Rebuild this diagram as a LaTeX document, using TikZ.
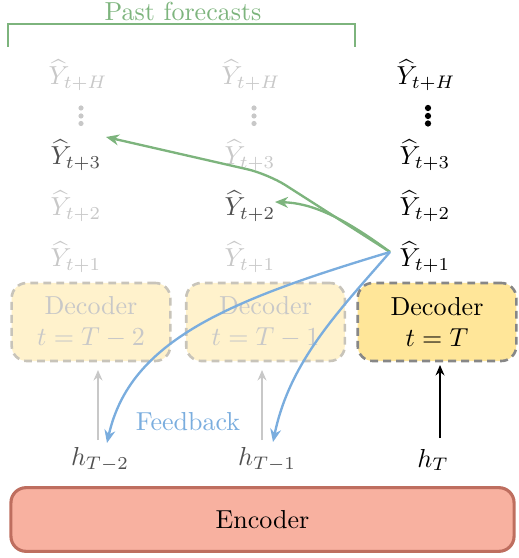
\documentclass[tikz,border=0pt]{standalone}
\usepackage{amsmath}
\usetikzlibrary{arrows.meta}
\definecolor{pgreen}{RGB}{125,180,125}
\definecolor{fblue}{RGB}{122,173,222}
\definecolor{decfill}{RGB}{255,230,153}
\definecolor{decfade}{RGB}{255,242,204}
\definecolor{encfill}{RGB}{248,177,160}
\definecolor{encdraw}{RGB}{190,110,95}
\definecolor{fadetxt}{RGB}{200,200,200}
\definecolor{hltxt}{RGB}{80,80,80}
\definecolor{fadeborder}{RGB}{200,196,186}
\definecolor{curborder}{RGB}{135,135,135}
\tikzset{
  decbox/.style={rounded corners=5.8pt, dash pattern=on 3pt off 2pt, line width=1pt,
    minimum width=61pt, minimum height=30pt, align=center, inner sep=0pt},
  decfaded/.style={decbox, draw=fadeborder, fill=decfade, text=fadetxt},
  deccur/.style={decbox, draw=curborder, fill=decfill, text=black},
  yfade/.style={text=fadetxt},
  yhl/.style={text=hltxt},
  ycur/.style={text=black},
  greenarrow/.style={draw=pgreen, line width=0.9pt, -{Stealth[length=5pt,width=4.2pt]}},
  bluearrow/.style={draw=fblue, line width=0.9pt, -{Stealth[length=5pt,width=4.2pt]}},
  uparrow/.style={line width=0.8pt, -{Stealth[length=4pt,width=3.4pt]}},
}
\begin{document}
\begin{tikzpicture}[x=0.3846pt,y=-0.3846pt]
\useasboundingbox (0,0) rectangle (518,558);

% Past forecasts bracket
\node[text=pgreen] (pf) at (183,11) {Past forecasts};
\draw[pgreen, line width=0.8pt] (8,47) -- (8,24) -- (355,24) -- (355,47);

% column 1
\node[yfade] (y1H) at (78,75) {$\widehat{Y}_{t+H}$};
\coordinate (y1d) at (81,116);
\foreach \dy in {-8,0,7.5} \fill[fadetxt] ([yshift=-\dy*0.3846pt]y1d) circle (1pt);
\node[yhl] (y13) at (76,155) {$\widehat{Y}_{t+3}$};
\node[yfade] (y12) at (76,206) {$\widehat{Y}_{t+2}$};
\node[yfade] (y11) at (76,257) {$\widehat{Y}_{t+1}$};
% column 2
\node[yfade] (y2H) at (251,75) {$\widehat{Y}_{t+H}$};
\coordinate (y2d) at (254,116);
\foreach \dy in {-8,0,7.5} \fill[fadetxt] ([yshift=-\dy*0.3846pt]y2d) circle (1pt);
\node[yfade] (y23) at (250,155) {$\widehat{Y}_{t+3}$};
\node[yhl] (y22) at (250,206) {$\widehat{Y}_{t+2}$};
\node[yfade] (y21) at (250,257) {$\widehat{Y}_{t+1}$};
% column 3
\node[ycur] (y3H) at (426,75) {$\widehat{Y}_{t+H}$};
\coordinate (y3d) at (428,116);
\foreach \dy in {-8,0,7.5} \fill[black] ([yshift=-\dy*0.3846pt]y3d) circle (1.2pt);
\node[ycur] (y33) at (425,155) {$\widehat{Y}_{t+3}$};
\node[ycur] (y32) at (425,206) {$\widehat{Y}_{t+2}$};
\node[ycur] (y31) at (425,257) {$\widehat{Y}_{t+1}$};

% decoders
\node[decfaded] (d1) at (91,322) {Decoder\\$t=T-2$};
\node[decfaded] (d2) at (265.5,322) {Decoder\\$t=T-1$};
\node[deccur] (d3) at (437,322) {Decoder\\$t=T$};

% hidden states
\node[text=hltxt] (h1) at (100,460) {$h_{T-2}$};
\node[text=hltxt] (h2) at (267,460) {$h_{T-1}$};
\node (h3) at (433,460) {$h_T$};

% encoder
\node[draw=encdraw, fill=encfill, line width=1.2pt, rounded corners=5.8pt,
      minimum width=193.5pt, minimum height=24.5pt] (enc) at (262.5,519.5) {Encoder};

% up arrows
\draw[uparrow, draw=fadetxt] (98,440) -- (98,370);
\draw[uparrow, draw=fadetxt] (262,440) -- (262,370);
\draw[uparrow, draw=black] (440,438) -- (440,365);

% feedback arrows
\coordinate (src) at (390,252);
\coordinate (t13) at (106,137);
\coordinate (t22) at (275,202);
\coordinate (th1) at (107,443);
\coordinate (th2) at (273,442);
\draw[greenarrow, rounded corners=8pt] (src) -- (268,174) -- (t13);
\draw[greenarrow] (src) .. controls (340,215) and (310,203) .. (t22);
\draw[bluearrow] (src) .. controls (230,300) and (130,340) .. (th1);
\draw[bluearrow] (src) .. controls (340,310) and (290,360) .. (th2);
\node[text=fblue] (fb) at (188,422) {Feedback};
\end{tikzpicture}
\end{document}
